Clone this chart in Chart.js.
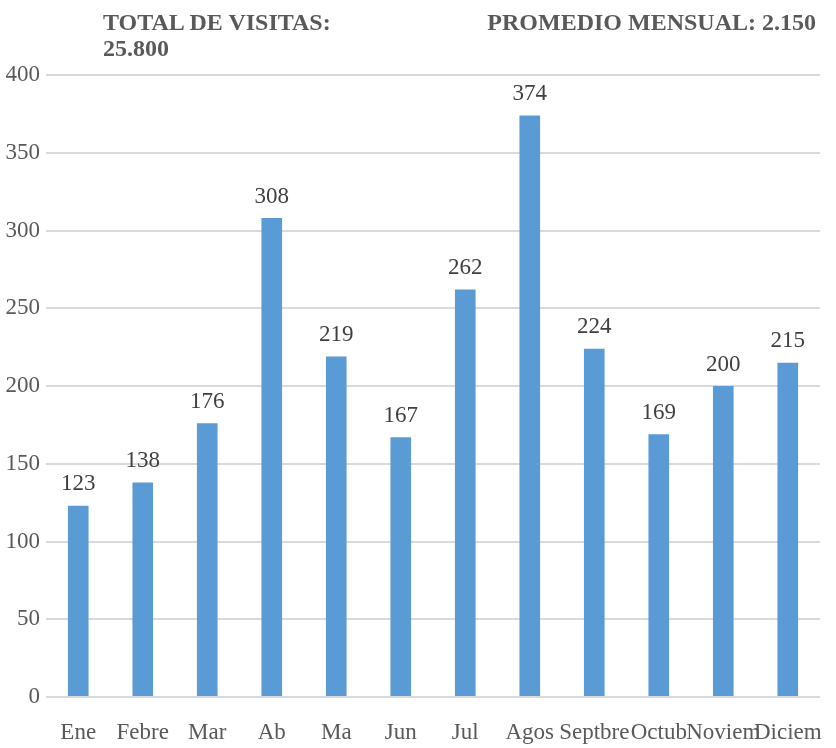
<!DOCTYPE html>
<html>
<head>
<meta charset="utf-8">
<script src="https://cdn.jsdelivr.net/npm/chart.js@4"></script>
<style>
  body { margin: 0; background: #fff; }
  #wrap { position: relative; width: 836px; height: 748px; }
  .cab { position: absolute; font-family: "Liberation Serif", "Times New Roman", serif; font-weight: bold; font-size: 24px; color: #595959; line-height: 26px; }
</style>
</head>
<body>
<div id="wrap">
  <div class="cab" style="left:103px; top:9px;">TOTAL DE VISITAS:<br>25.800</div>
  <div class="cab" style="right:20px; top:9px;">PROMEDIO MENSUAL: 2.150</div>
  <canvas id="grafica" width="836" height="748"></canvas>
</div>
<script>
const meses = ["Ene", "Febre", "Mar", "Ab", "Ma", "Jun", "Jul", "Agos", "Septbre", "Octub", "Noviem", "Diciem"];
const visitas = [123, 138, 176, 308, 219, 167, 262, 374, 224, 169, 200, 215];
const ticksY = [0, 50, 100, 150, 200, 250, 300, 350, 400];

const fuente = "'Liberation Serif', 'Times New Roman', serif";

// etiquetas encima de cada barra
const etiquetas = {
  id: "etiquetas",
  afterDatasetsDraw(chart) {
    const ctx = chart.ctx;
    const meta = chart.getDatasetMeta(0);
    ctx.save();
    ctx.font = "23px " + fuente;
    ctx.fillStyle = "#404040";
    ctx.textAlign = "center";
    ctx.textBaseline = "bottom";
    meta.data.forEach((bar, i) => {
      ctx.fillText(visitas[i], bar.x, bar.y - 10);
    });
    ctx.restore();
  }
};

new Chart(document.getElementById("grafica"), {
  type: "bar",
  data: {
    labels: meses,
    datasets: [{
      data: visitas,
      backgroundColor: "#5b9bd5",
      barPercentage: 0.32,
      categoryPercentage: 1
    }]
  },
  options: {
    responsive: false,
    animation: false,
    layout: { padding: { top: 75, right: 9, left: 0, bottom: 0 } },
    plugins: {
      legend: { display: false },
      tooltip: { enabled: false }
    },
    scales: {
      y: {
        min: 0,
        max: 400,
        afterBuildTicks: axis => { axis.ticks = ticksY.map(v => ({ value: v })); },
        afterFit: axis => { axis.width = 46; },
        border: { display: false },
        grid: { color: "#d9d9d9", lineWidth: 2, drawTicks: false },
        ticks: {
          padding: 6,
          color: "#595959",
          font: { family: fuente, size: 23 }
        }
      },
      x: {
        afterFit: axis => { axis.height = 51; },
        border: { display: false },
        grid: { display: false },
        ticks: {
          padding: 14,
          maxRotation: 0,
          autoSkip: false,
          color: "#595959",
          font: { family: fuente, size: 23 }
        }
      }
    }
  },
  plugins: [etiquetas]
});
</script>
</body>
</html>
